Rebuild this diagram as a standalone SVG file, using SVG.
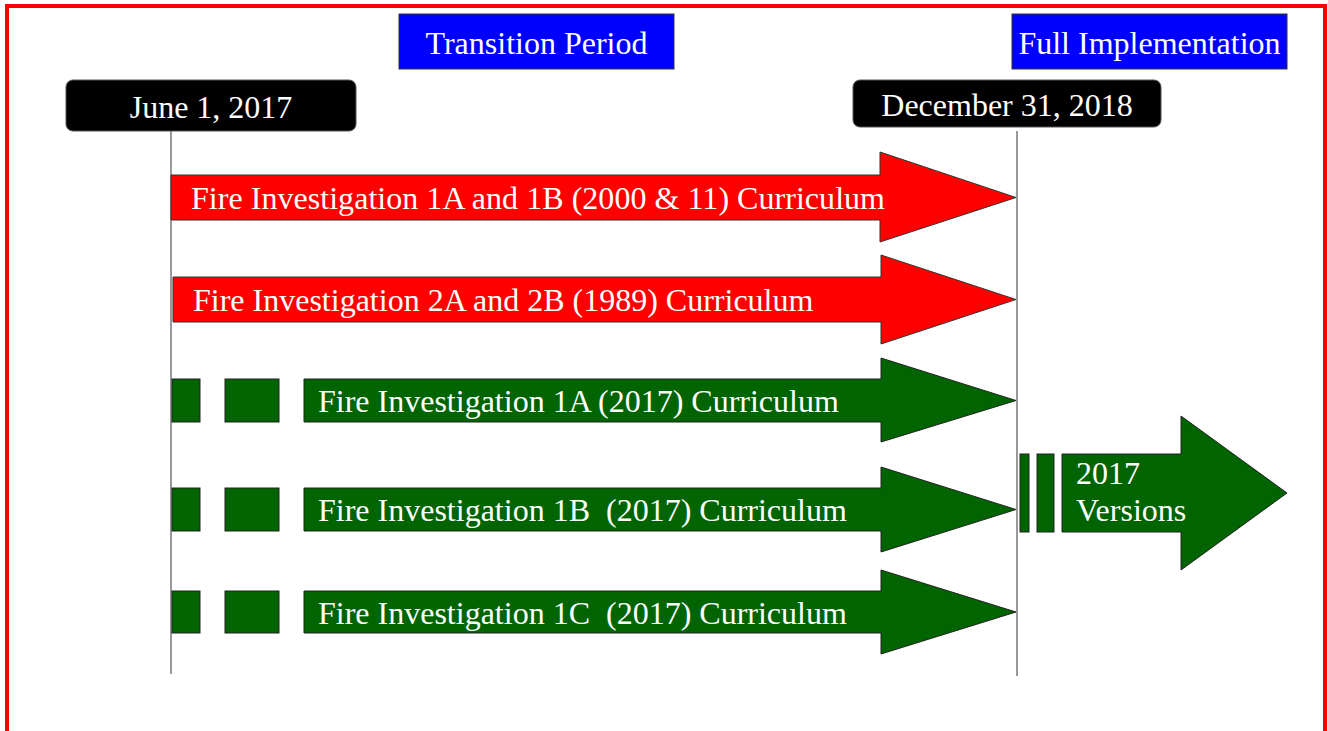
<svg xmlns="http://www.w3.org/2000/svg" width="1328" height="731" viewBox="0 0 1328 731">
<style>
  text { font-family: "Liberation Serif", "Times New Roman", serif; font-size: 32px; fill: #ffffff; }
  .mid { text-anchor: middle; }
  .red { fill: #ff0000; stroke: #333333; stroke-width: 1; }
  .grn { fill: #006400; stroke: #222222; stroke-width: 1; }
  .blue { fill: #0000ff; stroke: #333333; stroke-width: 1; }
  .date { fill: #000000; stroke: #555555; stroke-width: 1; }
  .vline { stroke: #555555; stroke-width: 1.2; fill: none; }
</style>
<rect x="0" y="0" width="1328" height="731" fill="#ffffff"/>
<rect x="7" y="6" width="1318" height="740" fill="none" stroke="#ff0000" stroke-width="4"/>

<g id="connectors">
  <line class="vline" x1="171" y1="131" x2="171" y2="674"/>
  <line class="vline" x1="1017" y1="131" x2="1017" y2="676"/>
</g>

<g id="transition-period">
  <rect class="blue" x="399" y="14" width="275" height="55"/>
  <text class="mid" x="536.5" y="54">Transition Period</text>
</g>
<g id="full-implementation">
  <rect class="blue" x="1012" y="14" width="275" height="55"/>
  <text class="mid" x="1149.5" y="54">Full Implementation</text>
</g>

<g id="june-2017">
  <rect class="date" x="66" y="80" width="290" height="51" rx="7" ry="7"/>
  <text class="mid" x="211" y="118">June 1, 2017</text>
</g>
<g id="december-2018">
  <rect class="date" x="853" y="80" width="308" height="47" rx="7" ry="7"/>
  <text class="mid" x="1007" y="116">December 31, 2018</text>
</g>

<g id="fi-1a-1b-2000">
  <polygon class="red" points="171,175 880,175 880,152 1016,197.5 880,242 880,220 171,220"/>
  <text x="191" y="209" textLength="694" lengthAdjust="spacing">Fire Investigation 1A and 1B (2000 &amp; 11) Curriculum</text>
</g>
<g id="fi-2a-2b-1989">
  <polygon class="red" points="173,277 881,277 881,255 1016,299.5 881,344 881,322 173,322"/>
  <text x="193" y="311">Fire Investigation 2A and 2B (1989) Curriculum</text>
</g>

<g id="fi-1a-2017">
  <rect class="grn" x="172" y="379" width="28" height="43"/>
  <rect class="grn" x="225" y="379" width="54" height="43"/>
  <polygon class="grn" points="304,379 881,379 881,358 1016,400.5 881,442 881,422 304,422"/>
  <text x="318" y="412">Fire Investigation 1A (2017) Curriculum</text>
</g>
<g id="fi-1b-2017">
  <rect class="grn" x="172" y="488" width="28" height="43"/>
  <rect class="grn" x="225" y="488" width="54" height="43"/>
  <polygon class="grn" points="304,488 881,488 881,467 1016,509.5 881,552 881,531 304,531"/>
  <text x="318" y="521" xml:space="preserve">Fire Investigation 1B  (2017) Curriculum</text>
</g>
<g id="fi-1c-2017">
  <rect class="grn" x="172" y="591" width="28" height="42"/>
  <rect class="grn" x="225" y="591" width="54" height="42"/>
  <polygon class="grn" points="304,591 881,591 881,570 1016,612 881,654 881,633 304,633"/>
  <text x="318" y="624" xml:space="preserve">Fire Investigation 1C  (2017) Curriculum</text>
</g>

<g id="versions-2017">
  <rect class="grn" x="1020" y="454" width="9" height="78"/>
  <rect class="grn" x="1037" y="454" width="17" height="78"/>
  <polygon class="grn" points="1062,454 1181,454 1181,416 1287,493 1181,570 1181,532 1062,532"/>
  <text x="1076" y="484">2017</text>
  <text x="1076" y="521">Versions</text>
</g>
</svg>
